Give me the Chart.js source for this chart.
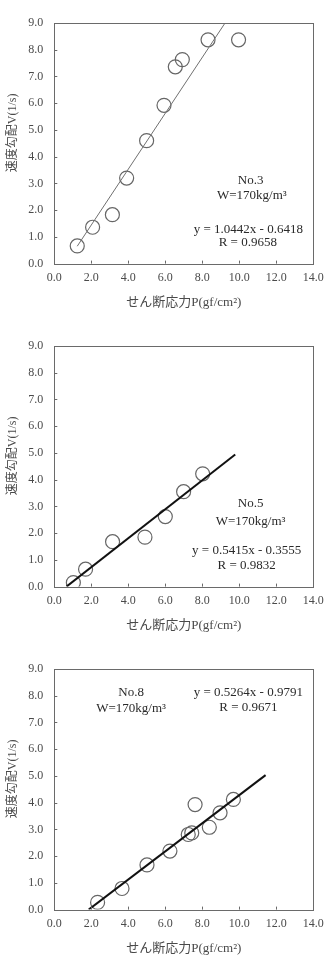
<!DOCTYPE html>
<html>
<head>
<meta charset="utf-8">
<script src="https://cdn.jsdelivr.net/npm/chart.js@4.4.0/dist/chart.umd.min.js"></script>
<style>
    html, body { margin: 0; padding: 0; background: #fff; }
    #wrap { position: relative; width: 324px; height: 975px; }
    .panel { position: absolute; left: 0; width: 324px; height: 323px; }
</style>
</head>
<body>
<div id="wrap">
    <div class="panel" style="top:0px"><canvas id="chartNo3"></canvas></div>
    <div class="panel" style="top:323px"><canvas id="chartNo5"></canvas></div>
    <div class="panel" style="top:646px"><canvas id="chartNo8"></canvas></div>
</div>
<script>
// Shared axis ticks
const xTicks = [0, 2, 4, 6, 8, 10, 12, 14];
const yTicks = [0, 1, 2, 3, 4, 5, 6, 7, 8, 9];
const xTitle = 'せん断応力P(gf/cm²)';
// leading blanks nudge the rotated title up, like the original sheet
const yTitle = '       速度勾配V(1/s)';

// No.3
const no3X = [1.24, 2.07, 3.14, 3.91, 4.99, 5.93, 6.54, 6.92, 8.31, 9.96];
const no3Y = [0.66, 1.36, 1.83, 3.20, 4.60, 5.92, 7.36, 7.63, 8.37, 8.37];
const no3TrendX = [1.24, 9.23];
const no3TrendY = [0.65, 9.0];
const no3Notes = ['No.3', 'W=170kg/m³', 'y = 1.0442x - 0.6418', 'R = 0.9658'];
const no3NoteX = [10.61, 10.68, 10.49, 10.46];
const no3NoteY = [3.12, 2.56, 1.27, 0.77];

// No.5
const no5X = [1.03, 1.69, 3.15, 4.90, 6.00, 6.99, 8.02];
const no5Y = [0.15, 0.65, 1.68, 1.85, 2.62, 3.55, 4.22];
const no5TrendX = [0.66, 9.78];
const no5TrendY = [0.0, 4.94];
const no5Notes = ['No.5', 'W=170kg/m³', 'y = 0.5415x - 0.3555', 'R = 0.9832'];
const no5NoteX = [10.61, 10.61, 10.4, 10.4];
const no5NoteY = [3.11, 2.45, 1.34, 0.78];

// No.8
const no8X = [2.34, 3.66, 5.01, 6.25, 7.24, 7.43, 7.61, 8.38, 8.96, 9.68];
const no8Y = [0.27, 0.79, 1.67, 2.19, 2.81, 2.87, 3.93, 3.08, 3.62, 4.12];
const no8TrendX = [1.86, 11.42];
const no8TrendY = [0.0, 5.03];
const no8Notes = ['No.8', 'W=170kg/m³', 'y = 0.5264x - 0.9791', 'R = 0.9671'];
const no8NoteX = [4.15, 4.15, 10.49, 10.49];
const no8NoteY = [8.11, 7.51, 8.11, 7.55];

const FONT = "'Liberation Serif', 'Noto Sans CJK JP', serif";
const TICK_COLOR = '#4a4a4a';
const TEXT_COLOR = '#2a2a2a';
const FRAME_COLOR = '#6a6a6a';

// Box around the plot plus short inward tick marks
const framePlugin = {
    id: 'frame',
    afterDraw(chart) {
        const { ctx, chartArea: a, scales } = chart;
        ctx.save();
        ctx.strokeStyle = FRAME_COLOR;
        ctx.lineWidth = 1;
        ctx.strokeRect(Math.round(a.left) + 0.5, Math.round(a.top) + 0.5,
            Math.round(a.right - a.left), Math.round(a.bottom - a.top));
        ctx.beginPath();
        scales.x.ticks.forEach(t => {
            const px = Math.round(scales.x.getPixelForValue(t.value)) + 0.5;
            ctx.moveTo(px, a.bottom);
            ctx.lineTo(px, a.bottom - 3);
        });
        scales.y.ticks.forEach(t => {
            const py = Math.round(scales.y.getPixelForValue(t.value)) + 0.5;
            ctx.moveTo(a.left, py);
            ctx.lineTo(a.left + 3, py);
        });
        ctx.stroke();
        ctx.restore();
    }
};

// Equation / sample labels placed in data coordinates
const notesPlugin = {
    id: 'notes',
    afterDatasetsDraw(chart, args, opts) {
        const { ctx, scales } = chart;
        ctx.save();
        ctx.fillStyle = TEXT_COLOR;
        ctx.font = '13px ' + FONT;
        ctx.textAlign = 'center';
        ctx.textBaseline = 'middle';
        opts.texts.forEach((txt, i) => {
            ctx.fillText(txt, scales.x.getPixelForValue(opts.xs[i]), scales.y.getPixelForValue(opts.ys[i]));
        });
        ctx.restore();
    }
};

function makeChart(id, xs, ys, trendX, trendY, notes, noteX, noteY, lineColor, lineWidth) {
    const ctx = document.getElementById(id);
    return new Chart(ctx, {
        type: 'scatter',
        data: {
            datasets: [
                {
                    type: 'line',
                    data: trendX.map((x, i) => ({ x: x, y: trendY[i] })),
                    borderColor: lineColor,
                    borderWidth: lineWidth,
                    pointRadius: 0,
                    fill: false,
                    order: 0
                },
                {
                    data: xs.map((x, i) => ({ x: x, y: ys[i] })),
                    pointStyle: 'circle',
                    pointRadius: 7,
                    backgroundColor: 'rgba(255,255,255,0)',
                    borderColor: '#666',
                    borderWidth: 1.2,
                    order: 1
                }
            ]
        },
        options: {
            responsive: true,
            maintainAspectRatio: false,
            animation: false,
            layout: { padding: { top: 23, right: 0, bottom: 0, left: 0 } },
            plugins: {
                legend: { display: false },
                tooltip: { enabled: false },
                notes: { texts: notes, xs: noteX, ys: noteY }
            },
            scales: {
                x: {
                    type: 'linear',
                    min: 0,
                    max: 14,
                    afterBuildTicks: s => { s.ticks = xTicks.map(v => ({ value: v })); },
                    afterFit: s => { s.height = 59.4; s.paddingRight = 10.7; },
                    grid: { display: false, drawTicks: false },
                    border: { display: false },
                    ticks: {
                        padding: 7,
                        color: TICK_COLOR,
                        font: { family: FONT, size: 12 },
                        callback: v => v.toFixed(1)
                    },
                    title: {
                        display: true,
                        text: xTitle,
                        color: TICK_COLOR,
                        font: { family: FONT, size: 13 },
                        padding: { top: 6, bottom: 13 }
                    }
                },
                y: {
                    type: 'linear',
                    min: 0,
                    max: 9,
                    afterBuildTicks: s => { s.ticks = yTicks.map(v => ({ value: v })); },
                    afterFit: s => { s.width = 54.3; },
                    grid: { display: false, drawTicks: false },
                    border: { display: false },
                    ticks: {
                        padding: 11,
                        color: TICK_COLOR,
                        font: { family: FONT, size: 12 },
                        callback: v => v.toFixed(1)
                    },
                    title: {
                        display: true,
                        text: yTitle,
                        color: TICK_COLOR,
                        font: { family: FONT, size: 12 },
                        padding: { top: 6, bottom: 0 }
                    }
                }
            }
        },
        plugins: [framePlugin, notesPlugin]
    });
}

makeChart('chartNo3', no3X, no3Y, no3TrendX, no3TrendY, no3Notes, no3NoteX, no3NoteY, '#707070', 1);
makeChart('chartNo5', no5X, no5Y, no5TrendX, no5TrendY, no5Notes, no5NoteX, no5NoteY, '#111', 2);
makeChart('chartNo8', no8X, no8Y, no8TrendX, no8TrendY, no8Notes, no8NoteX, no8NoteY, '#111', 2);
</script>
</body>
</html>
